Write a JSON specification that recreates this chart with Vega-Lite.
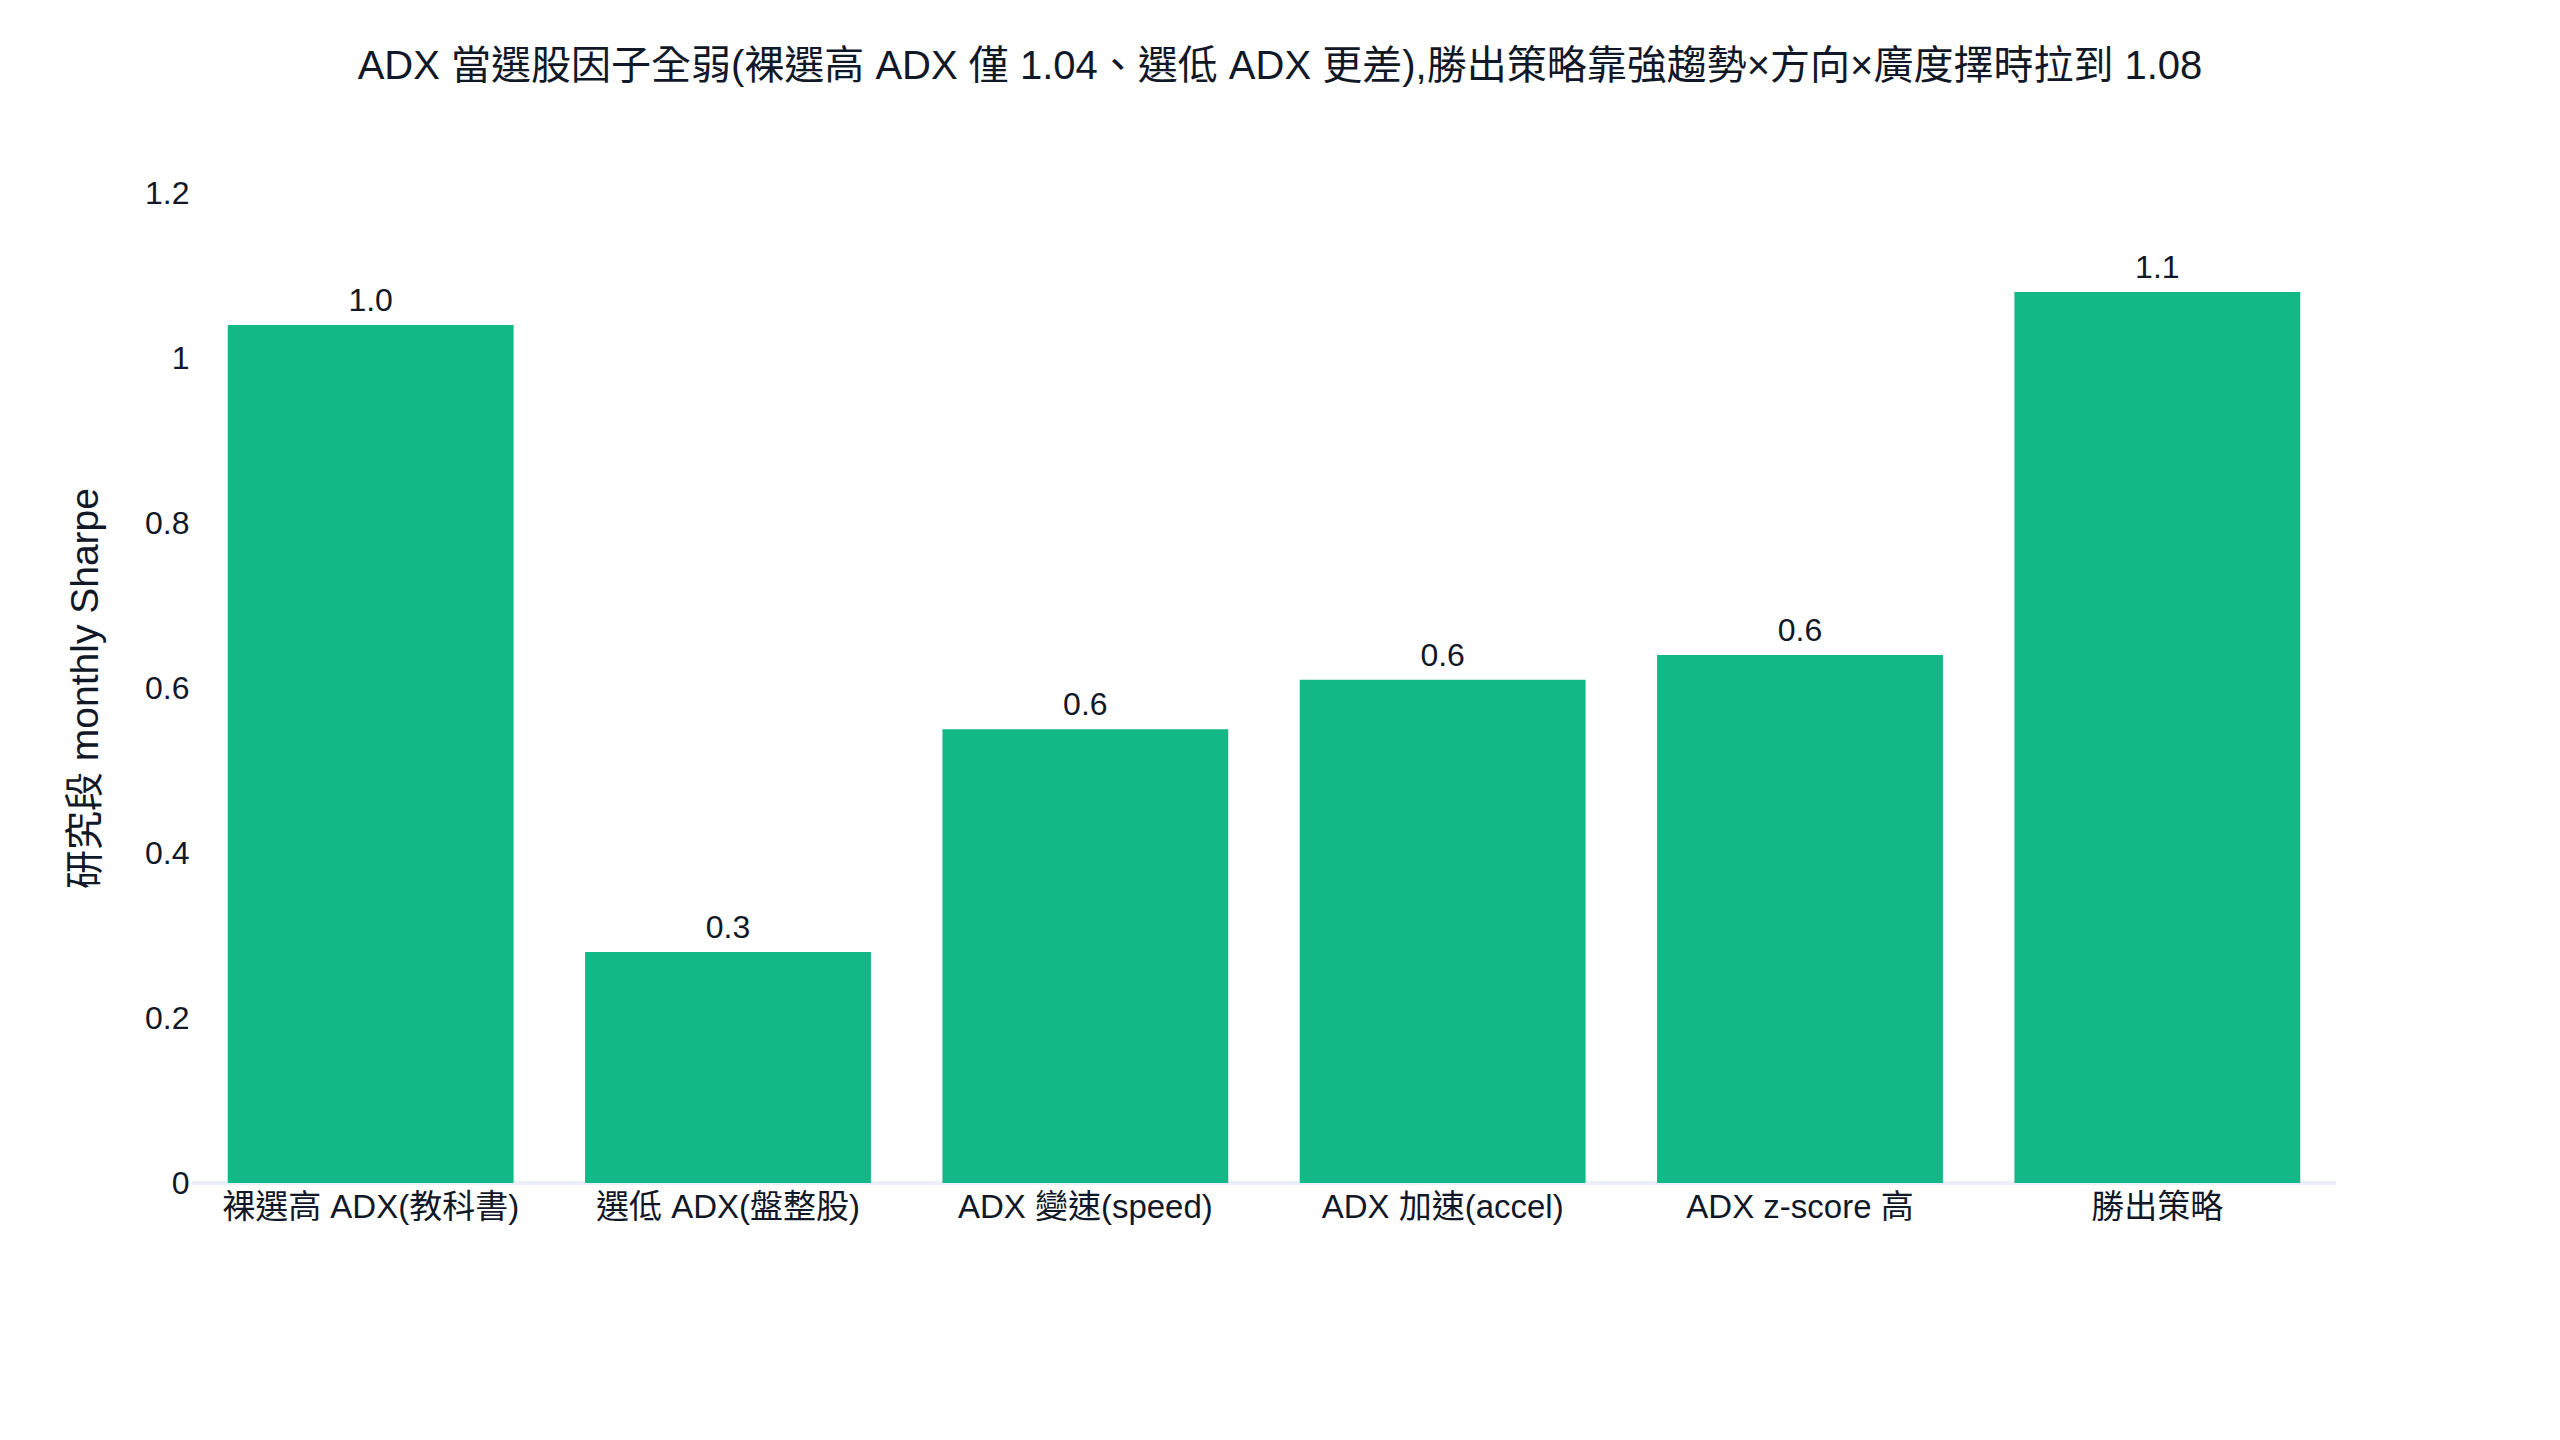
{
  "$schema": "https://vega.github.io/schema/vega-lite/v6.json",
  "autosize": "none",
  "width": 2144,
  "height": 990,
  "padding": {"left": 192, "top": 193, "right": 224, "bottom": 257},
  "background": "white",
  "config": {
    "font": "'Liberation Sans', 'Noto Sans CJK TC', sans-serif",
    "view": {"stroke": null}
  },
  "title": {
    "text": "ADX 當選股因子全弱(裸選高 ADX 僅 1.04、選低 ADX 更差),勝出策略靠強趨勢×方向×廣度擇時拉到 1.08",
    "fontSize": 40,
    "fontWeight": "normal",
    "color": "#111827",
    "anchor": "middle",
    "baseline": "bottom",
    "offset": 50,
    "dx": 16,
    "limit": 0
  },
  "data": {
    "values": [
      {"strategy": "裸選高 ADX(教科書)", "sharpe": 1.04},
      {"strategy": "選低 ADX(盤整股)", "sharpe": 0.28},
      {"strategy": "ADX 變速(speed)", "sharpe": 0.55},
      {"strategy": "ADX 加速(accel)", "sharpe": 0.61},
      {"strategy": "ADX z-score 高", "sharpe": 0.64},
      {"strategy": "勝出策略", "sharpe": 1.08}
    ]
  },
  "encoding": {
    "x": {
      "field": "strategy",
      "type": "nominal",
      "sort": null,
      "title": null,
      "scale": {"paddingInner": 0.2, "paddingOuter": 0.1},
      "axis": {
        "labelAngle": 0,
        "labelFontSize": 33,
        "labelColor": "#111827",
        "labelPadding": 8,
        "labelBaseline": "top",
        "labelLimit": 0,
        "labelOverlap": false,
        "ticks": false,
        "domain": false,
        "grid": false
      }
    }
  },
  "layer": [
    {
      "mark": {"type": "rule", "color": "#EBF0F8", "strokeWidth": 4},
      "encoding": {"y": {"datum": 0, "type": "quantitative"}, "x": null}
    },
    {
      "mark": {"type": "bar", "color": "#12B886"},
      "encoding": {
        "y": {
          "field": "sharpe",
          "type": "quantitative",
          "title": "研究段 monthly Sharpe",
          "scale": {"domain": [0, 1.2], "nice": false},
          "axis": {
            "values": [0, 0.2, 0.4, 0.6, 0.8, 1, 1.2],
            "format": "~g",
            "labelFontSize": 32,
            "labelColor": "#111827",
            "labelPadding": 3,
            "ticks": false,
            "domain": false,
            "gridColor": "#EBF0F8",
            "gridWidth": 2,
            "gridOpacity": {"condition": {"test": "datum.value >= 1.2 || datum.value == 0", "value": 0}, "value": 1},
            "titleFontSize": 39,
            "titleFontWeight": "normal",
            "titleColor": "#111827",
            "titleX": -107,
            "titleY": 495,
            "titleBaseline": "middle",
            "titleAngle": -90
          }
        }
      }
    },
    {
      "mark": {"type": "text", "baseline": "alphabetic", "dy": -14, "fontSize": 32, "color": "#111827"},
      "encoding": {
        "y": {"field": "sharpe", "type": "quantitative"},
        "text": {"field": "sharpe", "type": "quantitative", "format": ".1f"}
      }
    }
  ]
}
